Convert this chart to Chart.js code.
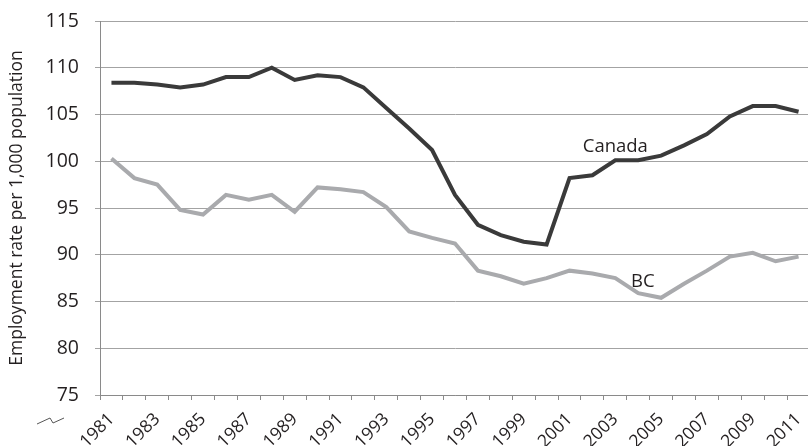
<!DOCTYPE html>
<html><head><meta charset="utf-8">
<script src="https://cdn.jsdelivr.net/npm/chart.js@4.4.1/dist/chart.umd.min.js"></script>
<style>html,body{margin:0;padding:0;background:#fff;overflow:hidden;width:808px;height:446px}canvas{display:block}</style>
</head><body>
<canvas id="c" width="812" height="446"></canvas>
<script>
const years = [1981,1982,1983,1984,1985,1986,1987,1988,1989,1990,1991,1992,1993,1994,1995,1996,1997,1998,1999,2000,2001,2002,2003,2004,2005,2006,2007,2008,2009,2010,2011];
const canada = [108.4,108.4,108.2,107.9,108.2,109.0,109.0,110.0,108.7,109.2,109.0,107.9,105.7,103.5,101.2,96.4,93.2,92.1,91.4,91.1,98.2,98.5,100.1,100.1,100.6,101.7,102.9,104.8,105.9,105.9,105.3];
const bc = [100.3,98.2,97.5,94.8,94.3,96.4,95.9,96.4,94.6,97.2,97.0,96.7,95.1,92.5,91.8,91.2,88.3,87.7,86.9,87.5,88.3,88.0,87.5,85.9,85.4,86.9,88.3,89.8,90.2,89.3,89.8];
const yTicks = [75,80,85,90,95,100,105,110,115];
const seriesLabels = [
  {text:'Canada', index:22, value:101.5},
  {text:'BC', index:23.2, value:87.1}
];
const FONT = '"Open Sans", sans-serif';
const TXT = '#231f20';

const extras = {
  id:'extras',
  afterDatasetsDraw(chart){
    const ctx = chart.ctx, xs = chart.scales.x, ys = chart.scales.y;
    ctx.save();
    ctx.fillStyle = TXT;
    ctx.font = '18.5px ' + FONT;
    ctx.textAlign = 'center';
    ctx.textBaseline = 'middle';
    seriesLabels.forEach(l => {
      ctx.fillText(l.text, xs.getPixelForValue(l.index), ys.getPixelForValue(l.value));
    });
    // axis break symbol
    const a = chart.chartArea;
    ctx.strokeStyle = '#555';
    ctx.lineWidth = 1;
    ctx.beginPath();
    ctx.moveTo(a.left - 63, a.bottom + 29);
    ctx.lineTo(a.left - 50, a.bottom + 23);
    ctx.lineTo(a.left - 47, a.bottom + 28);
    ctx.lineTo(a.left - 36, a.bottom + 23);
    ctx.stroke();
    ctx.restore();
  }
};

new Chart(document.getElementById('c'), {
  type:'line',
  data:{
    labels: years.map(String),
    datasets:[
      {label:'Canada', data:canada, borderColor:'#3a3a3a', borderWidth:4, pointRadius:0, tension:0, fill:false},
      {label:'BC', data:bc, borderColor:'#a9aaad', borderWidth:4, pointRadius:0, tension:0, fill:false}
    ]
  },
  options:{
    responsive:false,
    animation:false,
    devicePixelRatio:1,
    layout:{padding:{top:21,right:2,left:0,bottom:0}},
    plugins:{legend:{display:false},tooltip:{enabled:false}},
    scales:{
      x:{
        type:'category',
        offset:true,
        grid:{display:true, drawOnChartArea:false, drawTicks:true, tickLength:5, color:'#8a8a8a', offset:true},
        border:{display:true, color:'#8a8a8a', width:1},
        ticks:{autoSkip:false, maxRotation:45, minRotation:45, color:TXT, font:{family:FONT, size:17.5}, padding:9,
          callback:(v,i)=> i%2===0 ? years[i] : ''},
        afterFit(s){ s.height = 51; s.paddingLeft = 0; s.paddingRight = 0; }
      },
      y:{
        min:75, max:115,
        afterBuildTicks(s){ s.ticks = yTicks.map(v=>({value:v})); },
        grid:{color:'#a3a3a3', tickLength:5, drawTicks:true},
        border:{display:true, color:'#8a8a8a', width:1},
        ticks:{color:TXT, font:{family:FONT, size:19.5}, padding:16},
        title:{display:true, text:'Employment rate per 1,000 population', color:TXT, font:{family:FONT, size:17.5}, padding:{top:7,bottom:0}},
        afterFit(s){ s.width = 100; s.paddingTop = 0; s.paddingBottom = 0; }
      }
    }
  },
  plugins:[extras]
});
</script>
</body></html>
